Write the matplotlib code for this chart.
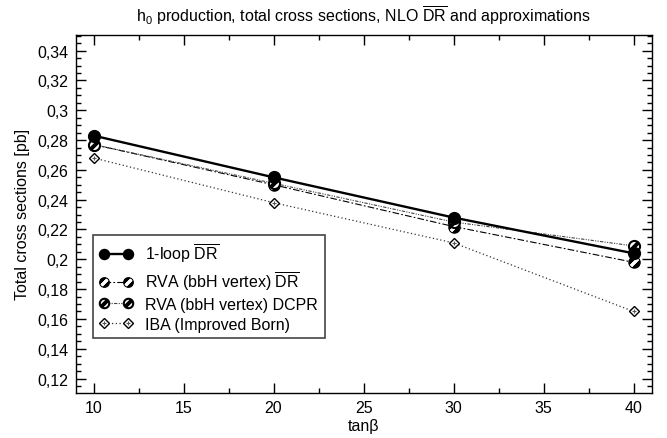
import matplotlib
matplotlib.use("Agg")
import matplotlib.pyplot as plt
from matplotlib.ticker import MultipleLocator, FuncFormatter

plt.rcParams['font.family'] = ['Liberation Sans', 'DejaVu Sans']
plt.rcParams['mathtext.fontset'] = 'custom'
plt.rcParams['mathtext.rm'] = 'Liberation Sans'
plt.rcParams['mathtext.it'] = 'Liberation Sans:italic'
plt.rcParams['mathtext.bf'] = 'Liberation Sans:bold'

# tan(beta) scan points and total cross sections in pb
tanb = [10, 20, 30, 40]
oneloop_dr = [0.283, 0.255, 0.228, 0.204]
rva_dr = [0.277, 0.250, 0.222, 0.198]
rva_dcpr = [0.277, 0.251, 0.225, 0.209]
iba = [0.268, 0.238, 0.211, 0.165]

labels = [r'1-loop $\overline{\mathrm{DR}}$',
          r'RVA (bbH vertex) $\overline{\mathrm{DR}}$',
          'RVA (bbH vertex) DCPR',
          'IBA (Improved Born)']
yticks = [0.12, 0.14, 0.16, 0.18, 0.2, 0.22, 0.24, 0.26, 0.28, 0.3, 0.32, 0.34]

FS = 11.5


def comma_fmt(v, pos):
    s = ('%.2f' % v).rstrip('0').rstrip('.')
    return s.replace('.', ',')


fig = plt.figure(figsize=(6.67, 4.39), dpi=100)
ax = fig.add_axes([0.1132, 0.1025, 0.8638, 0.8162])

# 1-loop DR, solid with filled circles
h1, = ax.plot(tanb, oneloop_dr, color='black', lw=1.7, marker='o',
              ms=8.5, mfc='black', mec='black', zorder=6)

# RVA DR, dash-dot with striped circles
h2, = ax.plot(tanb, rva_dr, color='black', lw=0.8, dashes=(6, 2, 1.5, 2),
              marker='o', ms=8, mfc='black', mec='black', zorder=4)
h2s, = ax.plot(tanb, rva_dr, ls='none', marker=(2, 2, -45), ms=7,
               mec='white', mew=2.0, zorder=4.1)

# RVA DCPR, fine dash-dot-dot with striped circles
h3, = ax.plot(tanb, rva_dcpr, color='#444444', lw=0.8,
              dashes=(3, 1.2, 1, 1.2, 1, 1.2), marker='o', ms=8,
              mfc='white', mec='black', mew=1.5, zorder=5)
h3s, = ax.plot(tanb, rva_dcpr, ls='none', marker=(2, 2, -45), ms=7,
               mec='black', mew=2.6, zorder=5.1)

# IBA, dotted with small diamonds
h4, = ax.plot(tanb, iba, color='#333333', lw=0.9, dashes=(1, 2),
              marker='D', ms=5.5, mfc='white', mec='black', mew=1.0, zorder=3)
h4s, = ax.plot(tanb, iba, ls='none', marker='+', ms=3.5, mec='#555555',
               mew=0.8, zorder=3.1)

ax.set_xlim(9, 41)
ax.set_ylim(0.1103, 0.3507)
ax.xaxis.set_major_locator(MultipleLocator(5))
ax.xaxis.set_minor_locator(MultipleLocator(2.5))
ax.set_yticks(yticks)
ax.yaxis.set_minor_locator(MultipleLocator(0.005))
ax.yaxis.set_major_formatter(FuncFormatter(comma_fmt))

ax.tick_params(which='both', direction='in', top=True, right=True,
               labelsize=FS, width=1.0, pad=5)
ax.tick_params(which='major', length=7)
ax.tick_params(which='minor', length=3.5)
for sp in ax.spines.values():
    sp.set_linewidth(1.0)

ax.set_xlabel('tanβ', fontsize=FS, labelpad=2)
ax.set_ylabel('Total cross sections [pb]', fontsize=FS, labelpad=5)
ax.set_title(r'h$_0$ production, total cross sections, NLO $\overline{\mathrm{DR}}$ and approximations',
             fontsize=FS, pad=10)

leg = ax.legend([h1, (h2, h2s), (h3, h3s), (h4, h4s)], labels,
                loc='lower left', bbox_to_anchor=(0.03, 0.153),
                fontsize=FS, numpoints=2, markerscale=0.85, frameon=True,
                fancybox=False, framealpha=1, edgecolor='#444444',
                borderpad=0.4, labelspacing=0.3, handlelength=2.1,
                handletextpad=0.8, borderaxespad=0)
leg.get_frame().set_linewidth(1.2)

fig.savefig('out.png', dpi=100)
